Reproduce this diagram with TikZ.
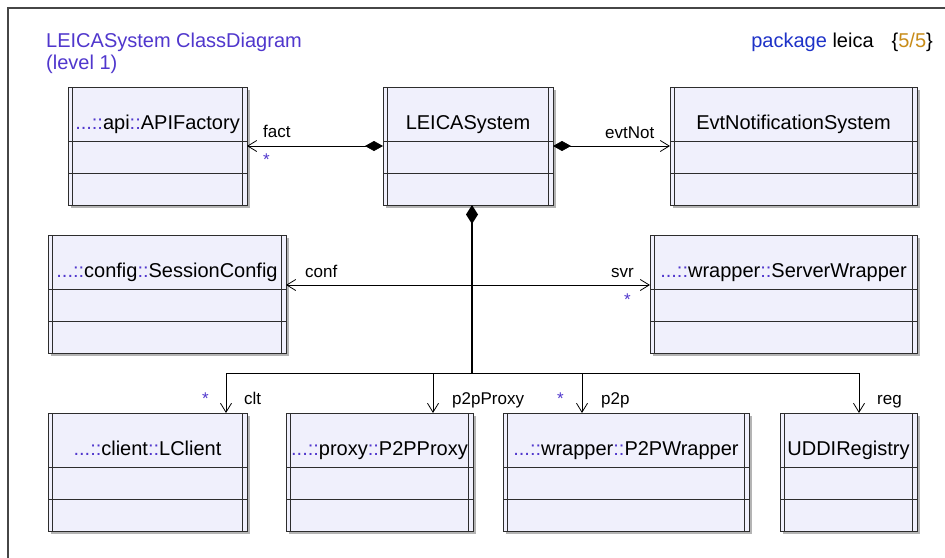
\documentclass[tikz,border=0pt]{standalone}
\usepackage{fontspec}
\setmainfont{Liberation Sans}
\usetikzlibrary{arrows.meta,shadows}
\definecolor{boxfill}{RGB}{240,240,252}
\definecolor{boxline}{RGB}{45,45,45}
\definecolor{shadowc}{RGB}{180,180,180}
\definecolor{titlec}{RGB}{80,55,205}
\definecolor{pkgc}{RGB}{30,50,200}
\definecolor{goldc}{RGB}{200,140,25}
\definecolor{framec}{RGB}{70,70,70}
\newcommand{\pfx}[2]{{\color{titlec}...::}#1{\color{titlec}::}#2}
\newcommand{\umlclass}[5]{%
  \node[classbox, minimum width=#4pt, minimum height=118pt, anchor=north] (#1) at (#2,#3) {};
  \draw[classline] ([yshift=-54pt]#1.north west) -- ([yshift=-54pt]#1.north east);
  \draw[classline] ([yshift=-86pt]#1.north west) -- ([yshift=-86pt]#1.north east);
  \draw[classline] ([xshift=4.5pt]#1.north west) -- ([xshift=4.5pt]#1.south west);
  \draw[classline] ([xshift=-4.5pt]#1.north east) -- ([xshift=-4.5pt]#1.south east);
  \node[classname, anchor=base] (#1-name) at ([yshift=-42pt]#1.north) {#5};
}
\tikzset{
  classbox/.style={draw=boxline, fill=boxfill, line width=1pt, inner sep=0pt, outer sep=0pt,
    drop shadow={shadow xshift=3pt, shadow yshift=-3pt, fill=shadowc, opacity=1}},
  classline/.style={draw=boxline, line width=0.9pt},
  classname/.style={font=\fontsize{20}{24}\selectfont, inner sep=0pt},
  rolelabel/.style={font=\fontsize{17}{20}\selectfont, inner sep=0pt, anchor=base west},
  multlabel/.style={font=\fontsize{17}{20}\selectfont, text=titlec, inner sep=0pt, anchor=base west},
  assoc/.style={draw=black, line width=0.8pt, -{Straight Barb[length=9pt,width=11pt]}},
  compos/.style={draw=black, line width=0.8pt, {Diamond[length=18pt,width=10pt]}-{Straight Barb[length=9pt,width=11pt]}},
  trunkline/.style={draw=black, line width=2.4pt, {Diamond[length=19pt,width=12pt,line width=0pt]}-},
  busline/.style={draw=black, line width=0.8pt},
  titletext/.style={font=\fontsize{20}{24}\selectfont, inner sep=0pt, anchor=base west}
}
\begin{document}
\begin{tikzpicture}[x=1pt,y=-1pt]
\useasboundingbox (0,0) rectangle (945,557);
\fill[white] (0,0) rectangle (945,557);
\draw[framec, line width=1.2pt] (8,565) -- (8,8) -- (955,8);

\node[titletext, text=titlec] (title1) at (46,47) {LEICASystem ClassDiagram};
\node[titletext, text=titlec] (title2) at (46,69) {(level 1)};
\node[titletext, anchor=base east] (pkg) at (933,47) {{\color{pkgc}package} leica\hspace{18pt}\{{\color{goldc}5/5}\}};

\umlclass{api}{157.5}{87}{179}{\pfx{api}{APIFactory}}
\umlclass{leica}{468}{87}{170}{LEICASystem}
\umlclass{evt}{793.5}{87}{247}{EvtNotificationSystem}
\umlclass{conf}{167}{235}{238}{\pfx{config}{SessionConfig}}
\umlclass{svr}{783.5}{235}{267}{\pfx{wrapper}{ServerWrapper}}
\umlclass{client}{147.5}{413}{199}{\pfx{client}{LClient}}
\umlclass{proxy}{379.5}{413}{187}{\pfx{proxy}{P2PProxy}}
\umlclass{p2pw}{626}{413}{246}{\pfx{wrapper}{P2PWrapper}}
\umlclass{uddi}{848.5}{413}{137}{UDDIRegistry}

% composition associations
\draw[compos] (leica.west) -- (api.east);
\draw[compos] (leica.east) -- (evt.west);

\coordinate (bus) at (472,373);
\coordinate (cs) at (472,285);
\coordinate (jc) at (226,373);
\coordinate (jp) at (433,373);
\coordinate (jw) at (582,373);
\coordinate (jr) at (859,373);

\draw[assoc] (cs) -- (cs -| conf.east);
\draw[assoc] (cs) -- (cs -| svr.west);
\draw[trunkline] ([xshift=4pt]leica.south) -- (bus);
\draw[busline] (jc) -- (jr);
\draw[assoc] (jc) -- (jc |- client.north);
\draw[assoc] (jp) -- (jp |- proxy.north);
\draw[assoc] (jw) -- (jw |- p2pw.north);
\draw[assoc] (jr) -- (jr |- uddi.north);

% labels
\node[rolelabel] (lfact) at (263,137) {fact};
\node[multlabel] (mfact) at (263,165) {*};
\node[rolelabel] (levt) at (605,138) {evtNot};
\node[rolelabel] (lconf) at (305,277) {conf};
\node[rolelabel] (lsvr) at (611,277) {svr};
\node[multlabel] (msvr) at (624,305) {*};
\node[multlabel] (mclt) at (202,404) {*};
\node[rolelabel] (lclt) at (244,404) {clt};
\node[rolelabel] (lproxy) at (452,404) {p2pProxy};
\node[multlabel] (mp2p) at (557,404) {*};
\node[rolelabel] (lp2p) at (601,404) {p2p};
\node[rolelabel] (lreg) at (877,404) {reg};
\end{tikzpicture}
\end{document}
